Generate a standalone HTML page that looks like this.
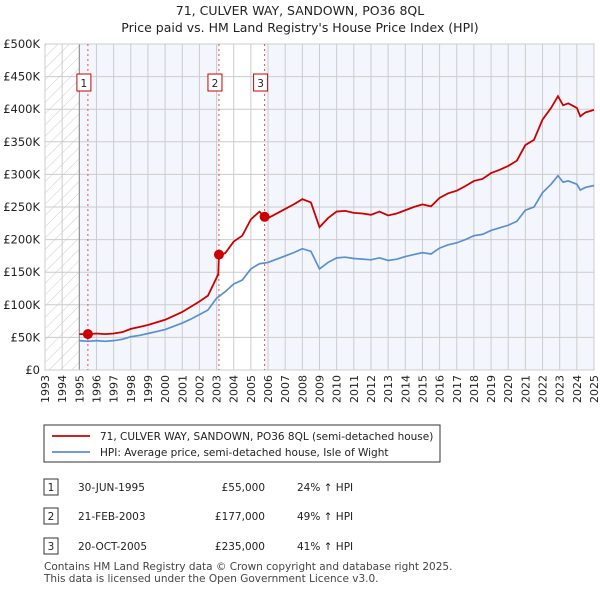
<!DOCTYPE html>
<html><head><meta charset="utf-8"><style>
body{margin:0;background:#fff;font-family:"Liberation Sans","DejaVu Sans",sans-serif;}
svg text{font-family:"DejaVu Sans","Liberation Sans",sans-serif;}
</style></head><body>
<svg id="chart" width="600" height="590" xmlns="http://www.w3.org/2000/svg">
<defs><pattern id="hatch" width="8" height="8" patternUnits="userSpaceOnUse" patternTransform="rotate(45)"><line x1="0" y1="0" x2="0" y2="8" stroke="#ccc" stroke-width="1"/></pattern></defs>
<text x="300" y="15" text-anchor="middle" font-size="12.5" fill="#222">71, CULVER WAY, SANDOWN, PO36 8QL</text>
<text x="300" y="32" text-anchor="middle" font-size="12.5" fill="#222">Price paid vs. HM Land Registry's House Price Index (HPI)</text>
<g id="plot"></g>
<g>
<rect x="44" y="425" width="396" height="37" fill="#fff" stroke="#333"/>
<line x1="52" y1="436" x2="90" y2="436" stroke="#cc0000" stroke-width="1.8"/>
<text x="100" y="440" font-size="10.5" fill="#222">71, CULVER WAY, SANDOWN, PO36 8QL (semi-detached house)</text>
<line x1="52" y1="452" x2="90" y2="452" stroke="#5b8fd0" stroke-width="1.8"/>
<text x="100" y="456" font-size="10.5" fill="#222">HPI: Average price, semi-detached house, Isle of Wight</text>
</g>
<g font-size="10.5" fill="#222">
<rect x="44" y="479" width="14" height="16" fill="#fff" stroke="#333"/><text x="51" y="491" text-anchor="middle">1</text>
<text x="78" y="491">30-JUN-1995</text><text x="265" y="491" text-anchor="end">£55,000</text><text x="297" y="491">24% ↑ HPI</text>
<rect x="44" y="508" width="14" height="16" fill="#fff" stroke="#333"/><text x="51" y="520" text-anchor="middle">2</text>
<text x="78" y="520">21-FEB-2003</text><text x="265" y="520" text-anchor="end">£177,000</text><text x="297" y="520">49% ↑ HPI</text>
<rect x="44" y="538" width="14" height="16" fill="#fff" stroke="#333"/><text x="51" y="550" text-anchor="middle">3</text>
<text x="78" y="550">20-OCT-2005</text><text x="265" y="550" text-anchor="end">£235,000</text><text x="297" y="550">41% ↑ HPI</text>
</g>
<text x="44" y="570" font-size="10.5" fill="#444">Contains HM Land Registry data © Crown copyright and database right 2025.</text>
<text x="44" y="582" font-size="10.5" fill="#444">This data is licensed under the Open Government Licence v3.0.</text>
</svg>
<script>
const hpiYears=[1995,1995.5,1996,1996.5,1997,1997.5,1998,1998.5,1999,1999.5,2000,2000.5,2001,2001.5,2002,2002.5,2003,2003.5,2004,2004.5,2005,2005.5,2006,2006.5,2007,2007.5,2008,2008.5,2009,2009.5,2010,2010.5,2011,2011.5,2012,2012.5,2013,2013.5,2014,2014.5,2015,2015.5,2016,2016.5,2017,2017.5,2018,2018.5,2019,2019.5,2020,2020.5,2021,2021.5,2022,2022.5,2022.9,2023.2,2023.5,2024,2024.2,2024.5,2025];
const hpiValues=[45,44,45,44,45,47,51,53,56,59,62,67,72,78,85,92,110,120,132,138,155,163,165,170,175,180,186,182,155,165,172,173,171,170,169,172,168,170,174,177,180,178,187,192,195,200,206,208,214,218,222,228,245,250,272,285,298,288,290,285,276,280,283];
const priceYears=[1995,1995.5,1996,1996.5,1997,1997.5,1998,1998.5,1999,1999.5,2000,2000.5,2001,2001.5,2002,2002.5,2003.1,2003.14,2003.5,2004,2004.5,2005,2005.5,2005.8,2006,2006.5,2007,2007.5,2008,2008.5,2009,2009.5,2010,2010.5,2011,2011.5,2012,2012.5,2013,2013.5,2014,2014.5,2015,2015.5,2016,2016.5,2017,2017.5,2018,2018.5,2019,2019.5,2020,2020.5,2021,2021.5,2022,2022.5,2022.9,2023.2,2023.5,2024,2024.2,2024.5,2025];
const priceValues=[55,55,56,55,56,58,63,66,69,73,77,83,89,97,105,114,147,177,179,197,206,231,243,235,233,240,247,254,262,257,219,233,243,244,241,240,238,243,237,240,245,250,254,251,264,271,275,282,290,293,302,307,313,321,345,353,384,402,420,406,409,402,389,395,399];
const saleYears=[1995.5,2003.14,2005.8];
const saleValues=[55,177,235];
const saleLabels=["1","2","3"];
const yTicks=[0,50,100,150,200,250,300,350,400,450,500];
const yTickLabels=["£0","£50K","£100K","£150K","£200K","£250K","£300K","£350K","£400K","£450K","£500K"];
const xTicks=[1993,1994,1995,1996,1997,1998,1999,2000,2001,2002,2003,2004,2005,2006,2007,2008,2009,2010,2011,2012,2013,2014,2015,2016,2017,2018,2019,2020,2021,2022,2023,2024,2025];

const X0=45,X1=594,Y0=370,Y1=44;
const xs=y=>X0+(y-1993)/(2025-1993)*(X1-X0);
const ys=v=>Y0-v/500*(Y0-Y1);
const NS="http://www.w3.org/2000/svg";
const g=document.getElementById('plot');
function mk(t,a,p){const e=document.createElementNS(NS,t);for(const k in a)e.setAttribute(k,a[k]);(p||g).appendChild(e);return e;}
let e;
e=mk('rect',{x:X0,y:Y1,width:X1-X0,height:Y0-Y1,fill:'#fff'});


e=mk('rect',{x:xs(1995),y:Y1,width:xs(2003.14)-xs(1995),height:Y0-Y1,fill:'#f3f6fd'});


e=mk('rect',{x:xs(2005.8),y:Y1,width:X1-xs(2005.8),height:Y0-Y1,fill:'#f3f6fd'});


e=mk('rect',{x:X0,y:Y1,width:xs(1995)-X0,height:Y0-Y1,fill:'url(#hatch)'});


xTicks.forEach(t=>{e=mk('line',{x1:xs(t),x2:xs(t),y1:Y1,y2:Y0,stroke:'#ccc','stroke-width':1});


e=mk('text',{x:0,y:0,'font-size':11,fill:'#222','text-anchor':'end',transform:`translate(${xs(t)+4},375) rotate(-90)`});e.textContent=t;

});
yTicks.forEach((t,i)=>{e=mk('line',{x1:X0,x2:X1,y1:ys(t),y2:ys(t),stroke:'#ccc','stroke-width':1});


e=mk('text',{x:40,y:ys(t)+4,'font-size':11.5,fill:'#222','text-anchor':'end'});e.textContent=yTickLabels[i];

});
e=mk('line',{x1:xs(1995),x2:xs(1995),y1:Y1,y2:Y0,stroke:'#888'});


e=mk('rect',{x:X0,y:Y1,width:X1-X0,height:Y0-Y1,fill:'none',stroke:'#ccc'});


saleYears.forEach((s,i)=>{e=mk('line',{x1:xs(s),x2:xs(s),y1:Y1,y2:Y0,stroke:'#e05050','stroke-dasharray':'2,3'});


e=mk('rect',{x:xs(s)-11,y:74,width:14,height:17,fill:'#fff',stroke:'#cc0000'});


e=mk('text',{x:xs(s)-4,y:87,'font-size':10.5,fill:'#222','text-anchor':'middle'});e.textContent=saleLabels[i];

});
e=mk('polyline',{points:hpiYears.map((y,i)=>xs(y)+','+ys(hpiValues[i])).join(' '),fill:'none',stroke:'#5b8fd0','stroke-width':1.7});


e=mk('polyline',{points:priceYears.map((y,i)=>xs(y)+','+ys(priceValues[i])).join(' '),fill:'none',stroke:'#cc0000','stroke-width':1.8});


saleYears.forEach((s,i)=>{e=mk('circle',{cx:xs(s),cy:ys(saleValues[i]),r:5,fill:'#cc0000'});

});
</script>
</body></html>
